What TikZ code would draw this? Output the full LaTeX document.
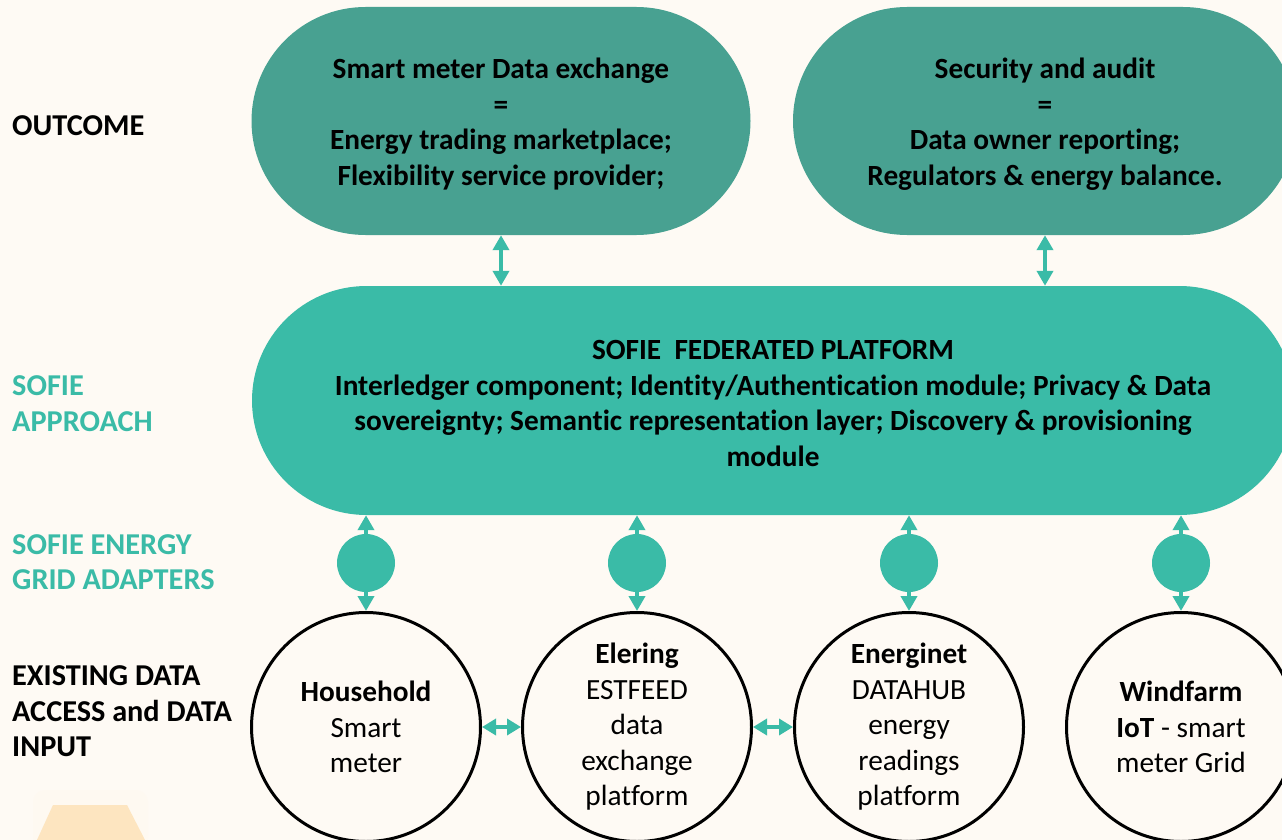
\documentclass[tikz,border=0pt]{standalone}
\usepackage{fontspec}
\setmainfont[Ligatures=NoCommon]{Carlito}
\usetikzlibrary{shapes.misc,arrows.meta}
\definecolor{bg}{RGB}{254,250,244}
\definecolor{darkteal}{RGB}{72,161,145}
\definecolor{tealc}{RGB}{58,187,167}
\definecolor{logoc}{RGB}{253,229,192}
\definecolor{haloc}{RGB}{254,249,241}
\begin{document}
\begin{tikzpicture}[x=1pt,y=-1pt,
  >={Triangle[width=16pt,length=15pt]},
  txt/.style={font=\fontsize{29.3}{35.5}\selectfont, align=center},
  outbox/.style={txt, rounded rectangle, fill=darkteal, minimum height=228pt, inner sep=0pt, font=\fontsize{29.3}{35.5}\selectfont\bfseries},
  platbox/.style={txt, rounded rectangle, fill=tealc, minimum height=229pt, inner sep=0pt, font=\fontsize{29.3}{35.5}\selectfont\bfseries},
  adapter/.style={circle, fill=tealc, minimum size=58pt, inner sep=0pt},
  source/.style={txt, circle, draw=black, line width=3pt, minimum size=229pt, inner sep=0pt, fill=bg},
  sidelabel/.style={font=\fontsize{30.3}{35.5}\selectfont\bfseries, align=left, anchor=west, inner sep=0pt},
  conn/.style={draw=tealc, line width=4pt},
]
\useasboundingbox (0,0) rectangle (1282,840);
\fill[bg] (0,0) rectangle (1282,840);
% partial logo
\fill[haloc, rounded corners=12pt] (33,790) rectangle (148,850);
\fill[logoc] (53,805) -- (127,805) -- (145,840) -- (37,840) -- cycle;

% side labels
\node[sidelabel, text=black] (l1) at (12,126) {OUTCOME};
\node[sidelabel, text=tealc] (l2) at (12,403.5) {SOFIE\\APPROACH};
\node[sidelabel, text=tealc] (l3) at (12,562) {SOFIE ENERGY\\GRID ADAPTERS};
\node[sidelabel, text=black] (l4) at (12,711.5) {EXISTING DATA\\ACCESS and DATA\\INPUT};

% outcome boxes
\node[outbox, minimum width=499pt] (sm) at (501,121) {\rule{0pt}{27pt}Smart meter Data exchange\\=\\Energy trading marketplace;\\Flexibility service provider;};
\node[outbox, minimum width=504pt] (sec) at (1045,121) {\rule{0pt}{27pt}Security and audit\\=\\Data owner reporting;\\Regulators \& energy balance.};

% platform
\node[platbox, minimum width=1042pt] (plat) at (773,400.5) {\rule{0pt}{25pt}SOFIE\ \ FEDERATED PLATFORM\\Interledger component; Identity/Authentication module; Privacy \& Data\\sovereignty; Semantic representation layer; Discovery \& provisioning\\module};

% bottom sources
\node[source] (hh) at (366,727) {\textbf{Household}\\Smart\\meter};
\node[source] (el) at (637,727) {\textbf{Elering}\\ESTFEED\\data\\exchange\\platform};
\node[source] (en) at (909,727) {\textbf{Energinet}\\DATAHUB\\energy\\readings\\platform};
\node[source] (wf) at (1181,727) {\textbf{Windfarm}\\\textbf{IoT} - smart\\meter Grid};

% adapters
\node[adapter] (a1) at (366,563) {};
\node[adapter] (a2) at (637,563) {};
\node[adapter] (a3) at (909,563) {};
\node[adapter] (a4) at (1181,563) {};

% vertical arrows outcome <-> platform
\draw[conn, <->] (sm.south) -- (plat.north -| sm.south);
\draw[conn, <->] (sec.south) -- (plat.north -| sec.south);

% adapter arrows
\draw[conn, ->] (a1.north) -- (plat.south -| a1.north);
\draw[conn, ->] (a1.south) -- (hh.north);
\draw[conn, ->] (a2.north) -- (plat.south -| a2.north);
\draw[conn, ->] (a2.south) -- (el.north);
\draw[conn, ->] (a3.north) -- (plat.south -| a3.north);
\draw[conn, ->] (a3.south) -- (en.north);
\draw[conn, ->] (a4.north) -- (plat.south -| a4.north);
\draw[conn, ->] (a4.south) -- (wf.north);

% horizontal arrows
\draw[conn, {Triangle[width=16pt,length=14pt]}-{Triangle[width=16pt,length=14pt]}] (hh.east) -- (el.west);
\draw[conn, {Triangle[width=16pt,length=14pt]}-{Triangle[width=16pt,length=14pt]}] (el.east) -- (en.west);
\end{tikzpicture}
\end{document}
